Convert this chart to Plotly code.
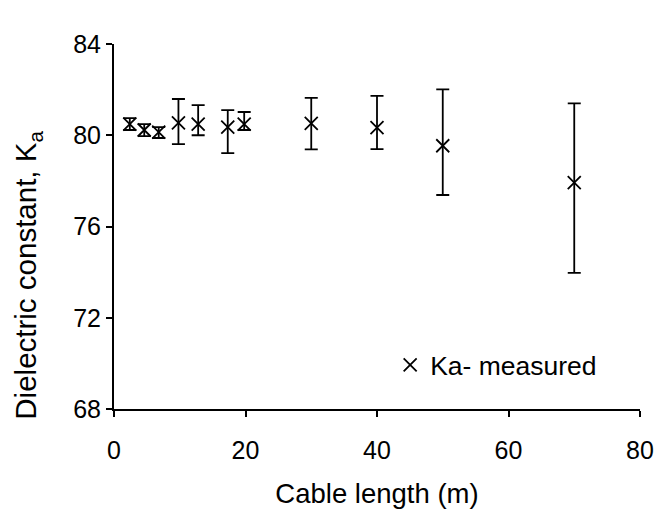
import plotly.graph_objects as go

cable_length = [2.4, 4.6, 6.8, 9.8, 12.8, 17.3, 19.8, 30, 40, 50, 70]
ka_measured = [80.49, 80.23, 80.14, 80.54, 80.49, 80.36, 80.49, 80.52, 80.33, 79.54, 77.92]
err_plus = [0.26, 0.26, 0.22, 1.05, 0.83, 0.74, 0.53, 1.12, 1.40, 2.47, 3.48]
err_minus = [0.26, 0.27, 0.26, 0.93, 0.49, 1.14, 0.26, 1.14, 0.94, 2.16, 3.95]

x_ticks = [0, 20, 40, 60, 80]
y_ticks = [68, 72, 76, 80, 84]

font = "Liberation Sans, Arial, sans-serif"

fig = go.Figure()
fig.add_trace(go.Scatter(
    x=cable_length, y=ka_measured, mode="markers",
    name="Ka- measured",
    marker=dict(symbol="x-thin", size=13, line=dict(color="black", width=1.8), color="black"),
    error_y=dict(type="data", symmetric=False, array=err_plus, arrayminus=err_minus,
                 color="black", thickness=1.8, width=6.5),
))

fig.update_layout(
    width=659, height=503,
    margin=dict(l=106, r=27, t=36, b=102, autoexpand=False),
    paper_bgcolor="white", plot_bgcolor="white",
    font=dict(family=font, size=25, color="black"),
    showlegend=True,
    legend=dict(x=0.525, y=0.12, xanchor="left", yanchor="middle",
                bgcolor="rgba(0,0,0,0)", font=dict(size=26.5)),
    xaxis=dict(range=[0, 80], tickvals=x_ticks, showgrid=False, zeroline=False,
               showline=True, linecolor="black", linewidth=2, automargin=False,
               ticks="outside", ticklen=6, tickwidth=2, tickcolor="black",
               tickfont=dict(size=25), ticklabelstandoff=12,
               title=dict(text="Cable length (m)", font=dict(size=27.5), standoff=21)),
    yaxis=dict(range=[68, 84], tickvals=y_ticks, showgrid=False, zeroline=False,
               showline=True, linecolor="black", linewidth=2, automargin=False,
               ticks="outside", ticklen=6, tickwidth=2, tickcolor="black",
               tickfont=dict(size=25)),
    annotations=[dict(text="Dielectric constant, K<sub>a</sub>", textangle=-90,
                      xref="paper", yref="paper", x=-0.1635, y=0.368,
                      xanchor="center", yanchor="middle", showarrow=False,
                      font=dict(size=29.5))],
)

fig.write_html("out.html")
